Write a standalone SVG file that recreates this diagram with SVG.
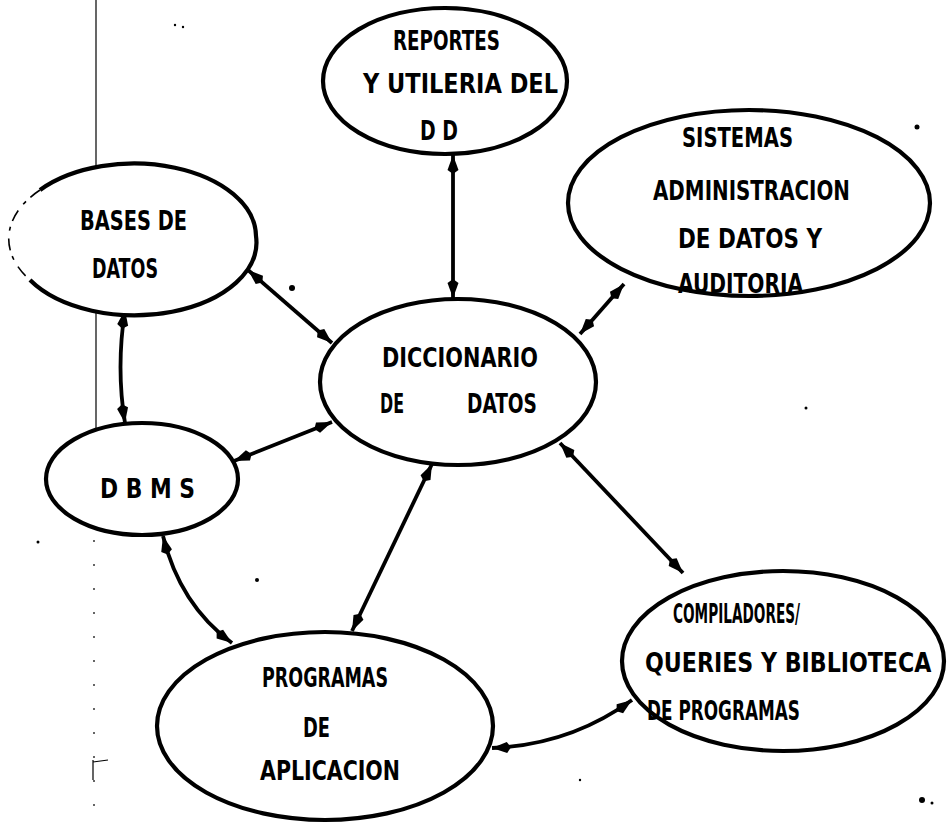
<svg xmlns="http://www.w3.org/2000/svg" width="947" height="823" viewBox="0 0 947 823">
  <defs>
    <style>
      .node { fill: #ffffff; stroke: #000; stroke-width: 4.2; }
      .lbl { font-family: "DejaVu Sans Condensed", "DejaVu Sans", sans-serif; font-weight: bold; font-size: 27px; fill: #000; }
      .link { fill: none; stroke: #000; stroke-width: 3.8; marker-start: url(#head); marker-end: url(#head); }
      .fold { stroke: #000; stroke-width: 1.2; fill: none; }
      .speck { fill: #000; }
    </style>
    <marker id="head" markerUnits="userSpaceOnUse" markerWidth="22" markerHeight="14" refX="19" refY="7" orient="auto-start-reverse">
      <path d="M0,7 L4,1.5 L19,7 L4,12.5 Z" fill="#000"/>
    </marker>
  </defs>

  <rect width="947" height="823" fill="#ffffff"/>

  <!-- page fold line on the left -->
  <g id="fold">
    <line class="fold" x1="96" y1="0" x2="96" y2="430"/>
    <line class="fold" x1="95" y1="430" x2="94" y2="520" stroke-dasharray="8 4 2 4"/>
    <line class="fold" x1="94" y1="540" x2="94" y2="823" stroke-dasharray="2 22"/>
    <path class="fold" d="M93,760 L93,780 M93,762 L108,760" stroke-width="1.8"/>
  </g>

  <!-- connectors -->
  <g id="connectors">
    <line class="link" x1="453" y1="155" x2="453" y2="298"/>
    <line class="link" x1="248" y1="270" x2="332" y2="343"/>
    <line class="link" x1="624" y1="284" x2="580" y2="334"/>
    <line class="link" x1="234" y1="461" x2="332" y2="422"/>
    <path class="link" d="M125,310 Q116,368 125,423"/>
    <path class="link" d="M163,536 Q180,605 232,643"/>
    <line class="link" x1="432" y1="464" x2="352" y2="631"/>
    <line class="link" x1="560" y1="443" x2="683" y2="573"/>
    <path class="link" d="M492,748 Q570,745 632,700"/>
  </g>

  <g id="reportes">
    <ellipse class="node" cx="445" cy="81" rx="122" ry="73"/>
    <text class="lbl" x="393" y="50" textLength="107" lengthAdjust="spacingAndGlyphs">REPORTES</text>
    <text class="lbl" x="363" y="93" textLength="195" lengthAdjust="spacingAndGlyphs">Y UTILERIA DEL</text>
    <text class="lbl" x="420" y="140" textLength="38" lengthAdjust="spacingAndGlyphs">D D</text>
  </g>

  <g id="bases">
    <path class="node" d="M40,190 A122,73 0 0 1 256,236 A122,73 0 0 1 30,280"/>
    <path d="M40,190 A122,73 0 0 0 30,280" fill="none" stroke="#000" stroke-width="1.6" stroke-dasharray="12 6 4 8"/>
    <text class="lbl" x="80" y="230" textLength="107" lengthAdjust="spacingAndGlyphs">BASES DE</text>
    <text class="lbl" x="92" y="278" textLength="66" lengthAdjust="spacingAndGlyphs">DATOS</text>
  </g>

  <g id="sistemas">
    <ellipse class="node" cx="749" cy="203" rx="181" ry="93"/>
    <text class="lbl" x="682" y="147" textLength="111" lengthAdjust="spacingAndGlyphs">SISTEMAS</text>
    <text class="lbl" x="653" y="200" textLength="197" lengthAdjust="spacingAndGlyphs">ADMINISTRACION</text>
    <text class="lbl" x="678" y="248" textLength="144" lengthAdjust="spacingAndGlyphs">DE DATOS Y</text>
    <text class="lbl" x="678" y="293" textLength="125" lengthAdjust="spacingAndGlyphs">AUDITORIA</text>
  </g>

  <g id="diccionario">
    <ellipse class="node" cx="458" cy="382" rx="138" ry="83"/>
    <text class="lbl" x="382" y="367" textLength="156" lengthAdjust="spacingAndGlyphs">DICCIONARIO</text>
    <text class="lbl" x="380" y="413" textLength="24" lengthAdjust="spacingAndGlyphs">DE</text>
    <text class="lbl" x="467" y="413" textLength="70" lengthAdjust="spacingAndGlyphs">DATOS</text>
  </g>

  <g id="dbms">
    <ellipse class="node" cx="142" cy="479" rx="96" ry="56"/>
    <text class="lbl" x="100" y="498" textLength="95" lengthAdjust="spacingAndGlyphs">D B M S</text>
  </g>

  <g id="programas">
    <ellipse class="node" cx="325" cy="726" rx="168" ry="94"/>
    <text class="lbl" x="262" y="687" textLength="126" lengthAdjust="spacingAndGlyphs">PROGRAMAS</text>
    <text class="lbl" x="303" y="737" textLength="27" lengthAdjust="spacingAndGlyphs">DE</text>
    <text class="lbl" x="260" y="780" textLength="140" lengthAdjust="spacingAndGlyphs">APLICACION</text>
  </g>

  <g id="compiladores">
    <ellipse class="node" cx="783" cy="661" rx="161" ry="90"/>
    <text class="lbl" x="673" y="623" textLength="127" lengthAdjust="spacingAndGlyphs">COMPILADORES/</text>
    <!-- widest line: narrowed with a horizontal scale so it stays inside the page -->
    <text class="lbl" transform="translate(645,672) scale(0.86,1)" x="0" y="0" textLength="333" lengthAdjust="spacingAndGlyphs">QUERIES Y BIBLIOTECA</text>
    <text class="lbl" x="647" y="720" textLength="153" lengthAdjust="spacingAndGlyphs">DE PROGRAMAS</text>
  </g>

  <!-- stray specks of the scanned page -->
  <g id="specks">
    <circle class="speck" cx="292" cy="288" r="3"/>
    <circle class="speck" cx="917" cy="127" r="2.5"/>
    <circle class="speck" cx="257" cy="580" r="2"/>
    <circle class="speck" cx="922" cy="800" r="3"/>
    <circle class="speck" cx="932" cy="803" r="1.5"/>
    <circle class="speck" cx="806" cy="408" r="1.5"/>
    <circle class="speck" cx="175" cy="25" r="1.2"/>
    <circle class="speck" cx="183" cy="27" r="1.2"/>
    <circle class="speck" cx="38" cy="542" r="1.5"/>
    <circle class="speck" cx="580" cy="780" r="1.2"/>
  </g>
</svg>
